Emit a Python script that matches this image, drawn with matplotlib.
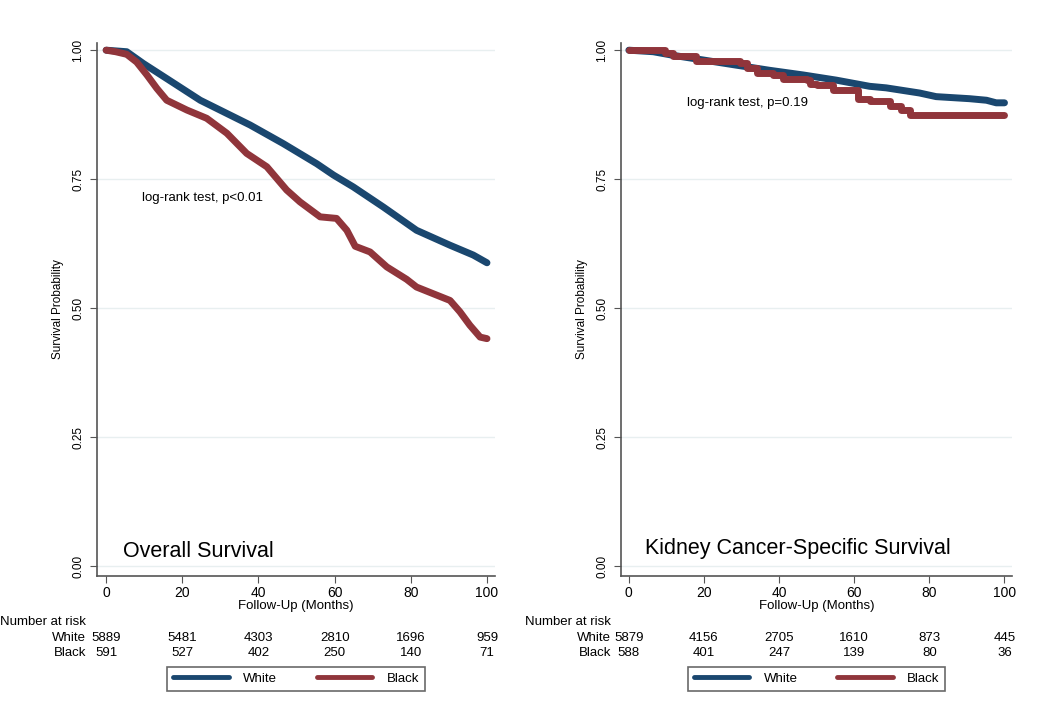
import numpy as np
import matplotlib
matplotlib.use("Agg")
import matplotlib.pyplot as plt
from matplotlib.lines import Line2D

plt.rcParams['font.family'] = ['Liberation Sans', 'DejaVu Sans']

NAVY = '#1a476f'
MAROON = '#90353b'

# ---- data ----
# overall survival
os_white_t = [0, 5.4, 9.8, 15.9, 24.7, 37.8, 46.5, 55.3, 59.7, 64.9, 72.8, 81.5, 90.3, 96.4, 100]
os_white_s = [1.0, 0.997, 0.974, 0.945, 0.903, 0.855, 0.819, 0.780, 0.758, 0.735, 0.696, 0.651, 0.622, 0.603, 0.588]
os_black_t = [0, 2.5, 5.4, 8.0, 10.7, 13.3, 15.9, 21.2, 26.4, 31.7, 36.9, 42.2, 47.4, 50.9, 56.2,
              60.5, 63.2, 65.4, 69.3, 73.7, 78.9, 81.5, 85.9, 90.3, 92.9, 95.5, 98.2, 100]
os_black_s = [1.0, 0.997, 0.992, 0.977, 0.952, 0.926, 0.903, 0.884, 0.868, 0.839, 0.800, 0.774, 0.729, 0.706, 0.677,
              0.674, 0.651, 0.620, 0.609, 0.580, 0.556, 0.541, 0.528, 0.515, 0.493, 0.467, 0.444, 0.441]

# kidney cancer-specific survival
cs_white_t = [0, 6.5, 11.8, 19.8, 28.6, 37.5, 46.4, 55.2, 64.1, 68.5, 77.4, 81.8, 90.7, 95.2, 97.8, 100]
cs_white_s = [1.0, 0.997, 0.990, 0.981, 0.971, 0.961, 0.952, 0.942, 0.930, 0.927, 0.917, 0.910, 0.906, 0.903, 0.898, 0.898]
cs_black_t = [0, 9.6, 11.8, 18.0, 29.6, 31.4, 34.1, 38.5, 41.1, 47.3, 48.2, 50.0, 54.4, 61.0,
              64.1, 69.4, 72.5, 74.9, 100]
cs_black_s = [1.0, 0.995, 0.988, 0.979, 0.976, 0.965, 0.955, 0.952, 0.945, 0.942, 0.935, 0.933, 0.922, 0.906,
              0.901, 0.891, 0.884, 0.875, 0.875]

risk_times = [0, 20, 40, 60, 80, 100]
os_risk_white = [5889, 5481, 4303, 2810, 1696, 959]
os_risk_black = [591, 527, 402, 250, 140, 71]
cs_risk_white = [5879, 4156, 2705, 1610, 873, 445]
cs_risk_black = [588, 401, 247, 139, 80, 36]

fig = plt.figure(figsize=(10.5, 7.16), dpi=100)
ax1 = fig.add_axes([0.0924, 0.1955, 0.379, 0.7445])
ax2 = fig.add_axes([0.5914, 0.1955, 0.3724, 0.7445])


def style(ax, xlim):
    ax.set_xlim(*xlim)
    ax.set_ylim(-0.019, 1.014)
    for s in ['top', 'right']:
        ax.spines[s].set_visible(False)
    for s in ['left', 'bottom']:
        ax.spines[s].set_color('#555555')
        ax.spines[s].set_linewidth(1.2)
    ax.set_yticks([0, 0.25, 0.5, 0.75, 1.0])
    ax.set_yticklabels(['0.00', '0.25', '0.50', '0.75', '1.00'], rotation=90, va='center', fontsize=8.5)
    ax.set_xticks(risk_times)
    ax.tick_params(axis='x', labelsize=10, length=5, color='#555555', pad=2)
    ax.tick_params(axis='y', length=5, color='#555555', pad=4)
    ax.grid(axis='y', color='#e8eff0', linewidth=1)
    ax.set_axisbelow(True)
    ax.set_xlabel('Follow-Up (Months)', fontsize=9.5, labelpad=0)
    ax.set_ylabel('Survival Probability', fontsize=8.5, labelpad=6)


def risk_table(ax, white, black, label_x):
    tr = ax.get_xaxis_transform()
    for t, w, b in zip(risk_times, white, black):
        ax.text(t, -0.116, str(w), transform=tr, ha='center', va='center', fontsize=9.5, clip_on=False)
        ax.text(t, -0.145, str(b), transform=tr, ha='center', va='center', fontsize=9.5, clip_on=False)
    fig.text(label_x, 1 - 622 / 716, 'Number at risk', ha='left', va='center', fontsize=9.5)
    fig.text(label_x + 86 / 1050, 1 - 638 / 716, 'White', ha='right', va='center', fontsize=9.5)
    fig.text(label_x + 86 / 1050, 1 - 653 / 716, 'Black', ha='right', va='center', fontsize=9.5)


def legend(ax):
    handles = [Line2D([0], [0], color=NAVY, lw=3.5, solid_capstyle='round'),
               Line2D([0], [0], color=MAROON, lw=3.5, solid_capstyle='round')]
    leg = ax.legend(handles, ['White', 'Black'], loc='center', bbox_to_anchor=(0.5, -0.193),
                    ncol=2, fontsize=9.5, frameon=True, fancybox=False, handlelength=4.2,
                    handletextpad=1.1, columnspacing=3.0, borderpad=0.45, borderaxespad=0)
    leg.get_frame().set_edgecolor('#444444')
    leg.get_frame().set_linewidth(1.2)


# left panel
ax1.plot(os_white_t, os_white_s, color=NAVY, lw=5, solid_capstyle='round', solid_joinstyle='round', zorder=3)
ax1.plot(os_black_t, os_black_s, color=MAROON, lw=5, solid_capstyle='round', solid_joinstyle='round', zorder=3)
style(ax1, (-2.4, 102.1))
ax1.text(9.4, 0.713, 'log-rank test, p<0.01', fontsize=9.5, va='center')
ax1.text(4.5, 0.028, 'Overall Survival', fontsize=15.5, va='center')
risk_table(ax1, os_risk_white, os_risk_black, 0.0)
legend(ax1)

# right panel
ax2.plot(cs_white_t, cs_white_s, color=NAVY, lw=5, solid_capstyle='round', solid_joinstyle='round', zorder=3)
ax2.plot(cs_black_t, cs_black_s, color=MAROON, lw=5, drawstyle='steps-post', solid_capstyle='round', zorder=3)
style(ax2, (-2.1, 102.0))
ax2.text(15.4, 0.897, 'log-rank test, p=0.19', fontsize=9.5, va='center')
ax2.text(4.3, 0.035, 'Kidney Cancer-Specific Survival', fontsize=15.5, va='center')
risk_table(ax2, cs_risk_white, cs_risk_black, 525 / 1050)
legend(ax2)

fig.savefig('out.png', dpi=100)
